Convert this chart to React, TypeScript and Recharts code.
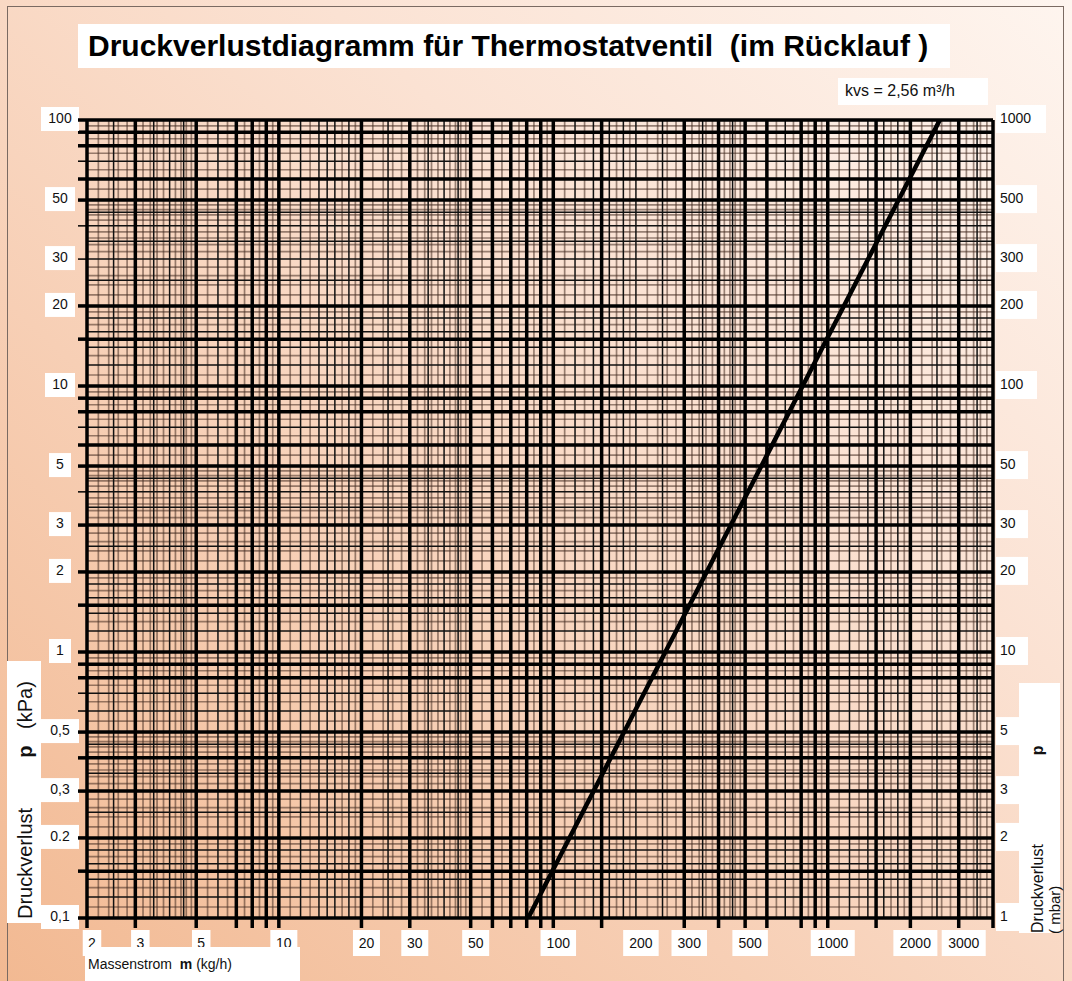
import React from 'react';
import { ComposedChart, Line, XAxis, YAxis, ReferenceLine } from 'recharts';

// Kennlinie kvs = 2,56 m³/h  (Massenstrom kg/h -> Druckverlust kPa)
const massFlow = [81, 256, 810, 2560];
const pressureDrop = [0.1, 1, 10, 100];

// beschriftete Achsenwerte
const xTickLabels = [2, 3, 5, 10, 20, 30, 50, 100, 200, 300, 500, 1000, 2000, 3000];
const yLeftLabels = [0.1, 0.2, 0.3, 0.5, 1, 2, 3, 5, 10, 20, 30, 50, 100];
const yRightLabels = [1, 2, 3, 5, 10, 20, 30, 50, 100, 200, 300, 500, 1000];

// Millimeterpapier: dicke Linien wie im Scan
const xThick = [2, 3, 5, 7, 8, 9, 10, 20, 30, 50, 60, 70, 80, 90, 100, 150, 300, 400, 500, 600, 800, 900, 1000, 1500, 2000, 3000, 4000];
const yThick = [0.1, 0.15, 0.2, 0.3, 0.4, 0.5, 0.8, 0.9, 1, 1.5, 2, 3, 5, 6, 8, 9, 10, 15, 20, 50, 60, 80, 90, 100];
const mediumMantissa = [1, 1.2, 1.4, 1.5, 1.6, 1.8, 2, 2.5, 3, 3.5, 4, 4.5, 5, 6, 7, 8, 9];
const thinMantissa = [1.1, 1.3, 1.7, 1.9, 2.2, 2.4, 2.6, 2.8, 3.2, 3.4, 3.6, 3.8, 4.2, 4.4, 4.6, 4.8, 5.5, 6.5, 7.5, 8.5, 9.5];
const tickMantissa = [1, 1.5, 2, 3, 4, 5, 6, 7, 8, 9];
const decades = [0.1, 1, 10, 100, 1000];

const X_DOMAIN = [2, 4000];
const Y_DOMAIN = [0.1, 100];
const Y_RIGHT_DOMAIN = [1, 1000];

const FONT = '"Liberation Sans", Arial, sans-serif';

const gridValues = (mantissas: number[], lo: number, hi: number, exclude: number[]) => {
  const out: number[] = [];
  decades.forEach((d) => {
    mantissas.forEach((m) => {
      const v = Number((d * m).toPrecision(6));
      if (v >= lo && v <= hi && !exclude.includes(v) && !out.includes(v)) out.push(v);
    });
  });
  return out;
};

const xMedium = gridValues(mediumMantissa, X_DOMAIN[0], X_DOMAIN[1], xThick);
const xThin = gridValues(thinMantissa, X_DOMAIN[0], X_DOMAIN[1], [...xThick, ...xMedium]);
const yMedium = gridValues(mediumMantissa, Y_DOMAIN[0], Y_DOMAIN[1], yThick);
const yThin = gridValues(thinMantissa, Y_DOMAIN[0], Y_DOMAIN[1], [...yThick, ...yMedium]);
const yLeftTicks = gridValues(tickMantissa, Y_DOMAIN[0], Y_DOMAIN[1], []);
const xTicks = [...xThick, ...xTickLabels.filter((v) => !xThick.includes(v))].sort((a, b) => a - b);

const data = massFlow.map((m, i) => ({ m, dp: pressureDrop[i] }));

const THIN = 'rgba(70, 45, 35, 0.55)';

const fmtLeft = (v: number) => (v === 0.2 ? '0.2' : String(v).replace('.', ','));

const XTick = ({ x, y, payload }: any) => {
  const v = payload.value;
  const label = xTickLabels.includes(v);
  const txt = String(v);
  const w = txt.length * 8.5 + 10;
  return (
    <g>
      {xThick.includes(v) && <line x1={x} x2={x} y1={y} y2={y + 10} stroke="#000" strokeWidth={3.5} />}
      {label && (
        <g>
          <rect x={x + 5 - w / 2} y={y + 12} width={w} height={26} fill="#fff" />
          <text x={x + 5} y={y + 25} dy="0.35em" textAnchor="middle" fontSize={14} fontFamily={FONT} fill="#111">
            {txt}
          </text>
        </g>
      )}
    </g>
  );
};

const LeftTick = ({ x, y, payload }: any) => {
  const v = payload.value;
  const thick = yThick.includes(v);
  const label = yLeftLabels.includes(v);
  const txt = fmtLeft(v);
  const w = txt.length * 8 + 14;
  return (
    <g>
      {label && (
        <g>
          <rect x={x - 27 - w / 2} y={y - 13} width={w} height={24} fill="#fff" />
          <text x={x - 27} y={y - 2} dy="0.35em" textAnchor="middle" fontSize={14} fontFamily={FONT} fill="#111">
            {txt}
          </text>
        </g>
      )}
      <line x1={x - 9} x2={x} y1={y} y2={y} stroke="#000" strokeWidth={thick ? 3.5 : 1.5} />
    </g>
  );
};

const RightTick = ({ x, y, payload }: any) => {
  const v = payload.value;
  const txt = String(v);
  const w = txt.length * 9 + 14;
  return (
    <g>
      <rect x={x + 3} y={y - 15} width={w} height={28} fill="#fff" />
      <text x={x + 7} y={y - 2} dy="0.35em" textAnchor="start" fontSize={14} fontFamily={FONT} fill="#111">
        {txt}
      </text>
    </g>
  );
};

const box = (left: number, top: number, width: number, height: number): React.CSSProperties => ({
  position: 'absolute',
  left,
  top,
  width,
  height,
  background: '#fff',
});

export default function App() {
  return (
    <div
      style={{
        position: 'absolute',
        left: 0,
        top: 0,
        width: 1072,
        height: 981,
        overflow: 'hidden',
        fontFamily: FONT,
        background: 'linear-gradient(to top right, #f2b992 0%, #f7cfb5 35%, #fbe2d3 65%, #fef5ef 100%)',
      }}
    >
      {/* Rahmen */}
      <div style={{ position: 'absolute', left: 7, top: 6, width: 1055, height: 990, border: '1.5px solid #7a6a62' }} />

      {/* Titel */}
      <div style={box(78, 24, 872, 44)} />
      <div
        style={{
          position: 'absolute',
          left: 88,
          top: 27,
          fontSize: 30,
          fontWeight: 'bold',
          color: '#000',
          whiteSpace: 'pre',
          lineHeight: '38px',
        }}
      >
        {'Druckverlustdiagramm für Thermostatventil  (im Rücklauf )'}
      </div>

      <div style={box(838, 78, 150, 27)} />
      <div style={{ position: 'absolute', left: 845, top: 80, fontSize: 16, lineHeight: '22px', color: '#111' }}>
        kvs = 2,56 m³/h
      </div>

      <ComposedChart
        width={1072}
        height={981}
        data={data}
        margin={{ top: 120, right: 0, bottom: 0, left: 0 }}
        style={{ position: 'absolute', left: 0, top: 0 }}
      >
        <XAxis
          dataKey="m"
          type="number"
          scale="log"
          domain={X_DOMAIN}
          allowDataOverflow
          ticks={xTicks}
          interval={0}
          height={63}
          tickSize={0}
          tickMargin={0}
          axisLine={false}
          tickLine={false}
          tick={<XTick />}
        />
        <YAxis
          yAxisId="left"
          type="number"
          scale="log"
          domain={Y_DOMAIN}
          allowDataOverflow
          ticks={yLeftTicks}
          interval={0}
          width={87}
          tickSize={0}
          tickMargin={0}
          axisLine={false}
          tickLine={false}
          tick={<LeftTick />}
        />
        <YAxis
          yAxisId="right"
          orientation="right"
          type="number"
          scale="log"
          domain={Y_RIGHT_DOMAIN}
          allowDataOverflow
          ticks={yRightLabels}
          interval={0}
          width={79}
          tickSize={0}
          tickMargin={0}
          axisLine={false}
          tickLine={false}
          tick={<RightTick />}
        />

        {xThin.map((v) => (
          <ReferenceLine key={`xt${v}`} yAxisId="left" x={v} stroke={THIN} strokeWidth={1.7} />
        ))}
        {yThin.map((v) => (
          <ReferenceLine key={`yt${v}`} yAxisId="left" y={v} stroke={THIN} strokeWidth={1.7} />
        ))}
        {xMedium.map((v) => (
          <ReferenceLine key={`xm${v}`} yAxisId="left" x={v} stroke="#111" strokeWidth={1.5} />
        ))}
        {yMedium.map((v) => (
          <ReferenceLine key={`ym${v}`} yAxisId="left" y={v} stroke="#111" strokeWidth={1.5} />
        ))}
        {xThick.map((v) => (
          <ReferenceLine key={`xk${v}`} yAxisId="left" x={v} stroke="#000" strokeWidth={3.5} />
        ))}
        {yThick.map((v) => (
          <ReferenceLine key={`yk${v}`} yAxisId="left" y={v} stroke="#000" strokeWidth={3.5} />
        ))}

        <Line
          yAxisId="left"
          dataKey="dp"
          type="linear"
          stroke="#000"
          strokeWidth={4.5}
          dot={false}
          isAnimationActive={false}
        />
      </ComposedChart>

      {/* linke Achsenbeschriftung */}
      <div style={box(7, 661, 34, 262)} />
      <div
        style={{
          position: 'absolute',
          left: 13,
          top: 919,
          transform: 'rotate(-90deg)',
          transformOrigin: '0 0',
          fontSize: 20,
          lineHeight: '24px',
          whiteSpace: 'pre',
          color: '#111',
        }}
      >
        {'Druckverlust         '}
        <b>p</b>
        {'   (kPa)'}
      </div>

      {/* rechte Achsenbeschriftung */}
      <div style={box(1019, 683, 41, 250)} />
      <div
        style={{
          position: 'absolute',
          left: 1029,
          top: 933,
          transform: 'rotate(-90deg)',
          transformOrigin: '0 0',
          fontSize: 16,
          lineHeight: '18px',
          whiteSpace: 'pre',
          color: '#111',
        }}
      >
        {'Druckverlust                    '}
        <b>p</b>
      </div>
      <div
        style={{
          position: 'absolute',
          left: 1046,
          top: 934,
          transform: 'rotate(-90deg)',
          transformOrigin: '0 0',
          fontSize: 15,
          lineHeight: '18px',
          whiteSpace: 'pre',
          color: '#111',
        }}
      >
        {'( mbar)'}
      </div>

      {/* x-Achsentitel */}
      <div style={box(85, 947, 215, 34)} />
      <div style={{ position: 'absolute', left: 88, top: 954, fontSize: 14, lineHeight: '20px', whiteSpace: 'pre', color: '#111' }}>
        {'Massenstrom  '}
        <b>m</b>
        {' (kg/h)'}
      </div>
    </div>
  );
}
